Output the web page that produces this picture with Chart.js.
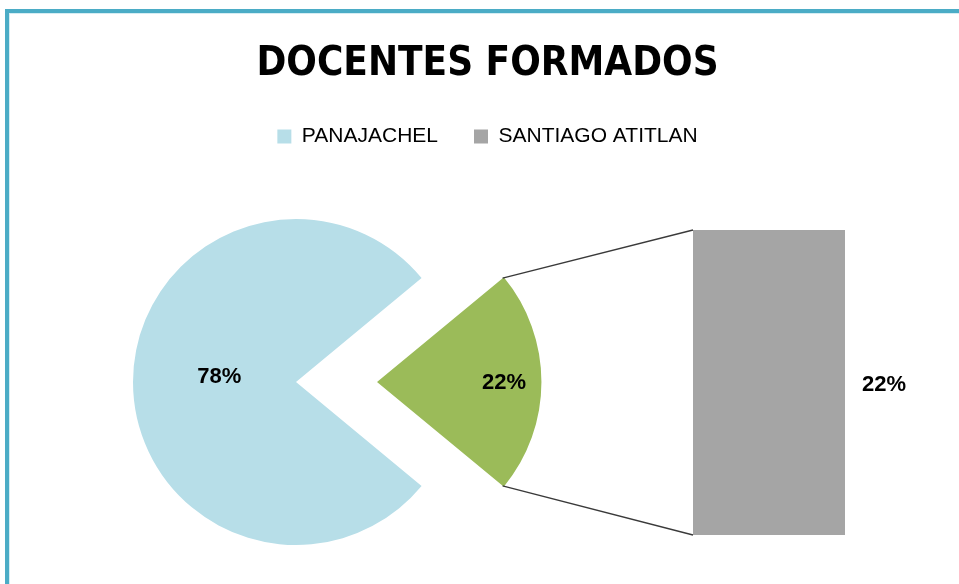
<!DOCTYPE html>
<html>
<head>
<meta charset="utf-8">
<script src="https://cdn.jsdelivr.net/npm/chart.js@4.4.1/dist/chart.umd.min.js"></script>
<style>
  html, body { margin: 0; padding: 0; background: #fff; overflow: hidden; width: 959px; height: 584px; }
  .frame {
    position: absolute; left: 5px; top: 9px; width: 1000px; height: 700px;
    border-left: 4px solid #4bacc6; border-top: 4px solid #4bacc6;
    box-shadow: inset 1px 1px 0 #d5edf3;
  }
  canvas { position: absolute; }
  #headChart { left: 0; top: 0; }
  #barChart { left: 693px; top: 230px; }
  #pieChart { left: 0; top: 180px; }
</style>
</head>
<body>
<div class="frame"></div>
<canvas id="headChart" width="975" height="160"></canvas>
<canvas id="barChart" width="266" height="305"></canvas>
<canvas id="pieChart" width="700" height="404"></canvas>
<script>
// data
const categories = ['PANAJACHEL', 'SANTIAGO ATITLAN'];
const pieLabels = ['PANAJACHEL', 'OTROS'];
const pieValues = [78, 22];
const barLabels = ['SANTIAGO ATITLAN'];
const barValues = [22];

const blue = '#b7dee8';
const green = '#9bbb59';
const gray = '#a5a5a5';
const labelFont = 'bold 22px "Liberation Sans", Arial, sans-serif';

// title + legend, spread over the whole frame width
new Chart(document.getElementById('headChart').getContext('2d'), {
  type: 'bar',
  data: { labels: [], datasets: [] },
  options: {
    responsive: false,
    animation: false,
    scales: { x: { display: false }, y: { display: false } },
    plugins: {
      tooltip: { enabled: false },
      title: {
        display: true,
        text: 'DOCENTES FORMADOS',
        color: '#000',
        font: { family: '"DejaVu Sans Condensed", "Liberation Sans Narrow", sans-serif', size: 40, weight: 'bold' },
        padding: { top: 41, bottom: 1 },
      },
      legend: {
        display: true,
        position: 'top',
        onClick: null,
        labels: {
          color: '#222',
          font: { family: '"Liberation Sans", Arial, sans-serif', size: 21 },
          boxWidth: 14,
          boxHeight: 14,
          padding: 36,
          generateLabels: () => categories.map((c, i) => ({
            text: c,
            fillStyle: i === 0 ? blue : gray,
            strokeStyle: i === 0 ? blue : gray,
            lineWidth: 0,
            hidden: false,
            index: i,
          })),
        },
      },
    },
  },
});

// bar of the "other" slice, created before the pie so the pie can draw the connectors to it
const barChart = new Chart(document.getElementById('barChart').getContext('2d'), {
  type: 'bar',
  data: {
    labels: barLabels,
    datasets: [{
      data: barValues,
      backgroundColor: gray,
      borderWidth: 0,
      barPercentage: 1,
      categoryPercentage: 1,
    }],
  },
  options: {
    responsive: false,
    animation: false,
    layout: { padding: { right: 114 } },
    plugins: { legend: { display: false }, tooltip: { enabled: false } },
    scales: {
      x: { display: false },
      y: { display: false, min: 0, max: 22 },
    },
  },
  plugins: [{
    id: 'barLabel',
    afterDatasetsDraw(chart) {
      const ctx = chart.ctx;
      chart.getDatasetMeta(0).data.forEach((bar, i) => {
        ctx.save();
        ctx.font = labelFont;
        ctx.fillStyle = '#000';
        ctx.textAlign = 'left';
        ctx.textBaseline = 'middle';
        ctx.fillText(barValues[i] + '%', bar.x + bar.width / 2 + 17, (bar.y + bar.base) / 2 + 2);
        ctx.restore();
      });
    },
  }],
});

const pieOffsets = [0, 324]; // arc draw moves the slice by offset / 4
const labelRadius = [0.47, 0.78];

new Chart(document.getElementById('pieChart').getContext('2d'), {
  type: 'pie',
  data: {
    labels: pieLabels,
    datasets: [{
      data: pieValues,
      backgroundColor: [blue, green],
      borderWidth: 0,
      offset: pieOffsets,
      radius: 163,
      rotation: 129.6,
    }],
  },
  options: {
    responsive: false,
    animation: false,
    layout: { padding: { right: 108 } },
    plugins: { legend: { display: false }, tooltip: { enabled: false } },
  },
  plugins: [{
    id: 'pieExtras',
    afterDatasetsDraw(chart) {
      const ctx = chart.ctx;
      const arcs = chart.getDatasetMeta(0).data;

      // connector lines from the exploded slice to the bar
      const slice = arcs[1];
      const mid = (slice.startAngle + slice.endAngle) / 2;
      const sx = slice.x + Math.cos(mid) * pieOffsets[1] / 4;
      const sy = slice.y + Math.sin(mid) * pieOffsets[1] / 4;
      const r = slice.outerRadius;
      const bar = barChart.getDatasetMeta(0).data[0];
      const bx = barChart.canvas.offsetLeft - chart.canvas.offsetLeft + bar.x - bar.width / 2;
      const by = barChart.canvas.offsetTop - chart.canvas.offsetTop;
      ctx.save();
      ctx.strokeStyle = '#3a3a3a';
      ctx.lineWidth = 1.3;
      ctx.beginPath();
      ctx.moveTo(sx + r * Math.cos(slice.startAngle), sy + r * Math.sin(slice.startAngle));
      ctx.lineTo(bx, by + bar.y);
      ctx.moveTo(sx + r * Math.cos(slice.endAngle), sy + r * Math.sin(slice.endAngle));
      ctx.lineTo(bx, by + bar.base);
      ctx.stroke();

      // percent labels inside the slices
      ctx.font = labelFont;
      ctx.fillStyle = '#000';
      ctx.textAlign = 'center';
      ctx.textBaseline = 'middle';
      arcs.forEach((arc, i) => {
        const a = (arc.startAngle + arc.endAngle) / 2;
        const cx = arc.x + Math.cos(a) * pieOffsets[i] / 4;
        const cy = arc.y + Math.sin(a) * pieOffsets[i] / 4;
        const d = arc.outerRadius * labelRadius[i];
        ctx.fillText(pieValues[i] + '%', cx + Math.cos(a) * d, cy + Math.sin(a) * d + (i === 0 ? -5 : 1));
      });
      ctx.restore();
    },
  }],
});
</script>
</body>
</html>
